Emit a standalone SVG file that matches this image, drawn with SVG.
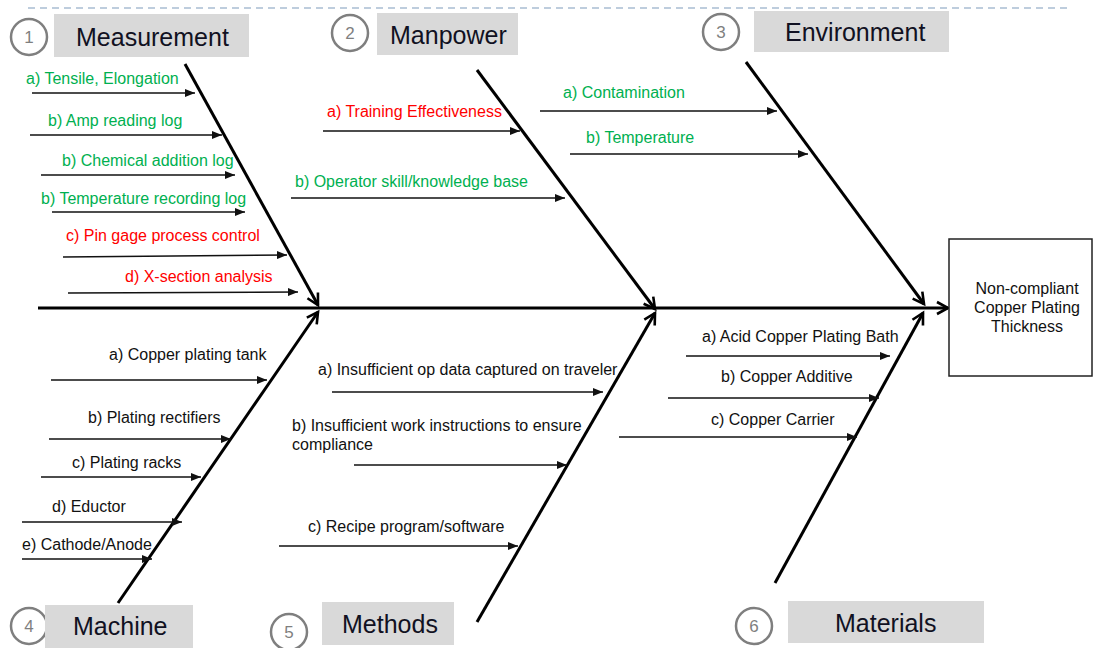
<svg xmlns="http://www.w3.org/2000/svg" width="1094" height="648" viewBox="0 0 1094 648">
<style>
.t{font-family:"Liberation Sans",Arial,sans-serif;font-size:16px;}
.g{fill:#00b050;}
.r{fill:#ff0000;}
.k{fill:#111111;}
.hd{font-family:"Liberation Sans",Arial,sans-serif;font-size:25px;fill:#111122;}
.hb{fill:#d9d9d9;}
.cn{fill:#ffffff;stroke:#7f7f7f;stroke-width:2.5;}
.num{font-family:"Liberation Sans",Arial,sans-serif;font-size:17px;fill:#7f7f7f;text-anchor:middle;}
.bone{stroke:#000;stroke-width:3;fill:none;marker-end:url(#open);}
.sub{stroke:#111;stroke-width:1.6;fill:none;marker-end:url(#fill);}
</style>
<defs>
<marker id="open" markerUnits="userSpaceOnUse" markerWidth="16" markerHeight="16" refX="13" refY="8" orient="auto" viewBox="0 0 16 16">
<path d="M2,2 L13,8 L2,14" fill="none" stroke="#000" stroke-width="2.6"/>
</marker>
<marker id="fill" markerUnits="userSpaceOnUse" markerWidth="10" markerHeight="8" refX="10" refY="4" orient="auto" viewBox="0 0 10 8">
<path d="M0,0 L10,4 L0,8 z" fill="#111"/>
</marker>
</defs>
<rect width="1094" height="648" fill="#ffffff"/>
<line x1="28" y1="8" x2="1067" y2="8" stroke="#a9bdd2" stroke-width="1.3" stroke-dasharray="7,5"/>

<g id="connectors">
<line x1="38" y1="308" x2="948" y2="308" class="bone"/>
<line x1="185" y1="64" x2="318" y2="305" class="bone"/>
<line x1="477" y1="70" x2="655" y2="309" class="bone"/>
<line x1="746" y1="62" x2="924" y2="304" class="bone"/>
<line x1="118" y1="603" x2="318" y2="312" class="bone"/>
<line x1="477" y1="622" x2="655" y2="313" class="bone"/>
<line x1="775" y1="583" x2="923" y2="313" class="bone"/>
<line x1="32" y1="93" x2="195" y2="93" class="sub"/>
<line x1="30" y1="135" x2="222" y2="135" class="sub"/>
<line x1="41" y1="175" x2="235" y2="175" class="sub"/>
<line x1="52" y1="212" x2="245" y2="212" class="sub"/>
<line x1="63" y1="257" x2="287" y2="255" class="sub"/>
<line x1="68" y1="293" x2="298" y2="292" class="sub"/>
<line x1="323" y1="131" x2="520" y2="131" class="sub"/>
<line x1="291" y1="198" x2="565" y2="198" class="sub"/>
<line x1="540" y1="111" x2="777" y2="111" class="sub"/>
<line x1="570" y1="154" x2="808" y2="154" class="sub"/>
<line x1="51" y1="380" x2="267" y2="380" class="sub"/>
<line x1="49" y1="439" x2="231" y2="439" class="sub"/>
<line x1="41" y1="477" x2="201" y2="477" class="sub"/>
<line x1="22" y1="522" x2="182" y2="522" class="sub"/>
<line x1="22" y1="559" x2="152" y2="559" class="sub"/>
<line x1="332" y1="392" x2="603" y2="392" class="sub"/>
<line x1="354" y1="465" x2="567" y2="465" class="sub"/>
<line x1="279" y1="546" x2="518" y2="546" class="sub"/>
<line x1="686" y1="356" x2="890" y2="356" class="sub"/>
<line x1="668" y1="398" x2="879" y2="398" class="sub"/>
<line x1="619" y1="437" x2="857" y2="437" class="sub"/>
</g>

<g id="effect">
<rect x="949" y="239" width="143" height="137" fill="#fff" stroke="#222" stroke-width="1.5"/>
<text class="t k" x="1027" y="294" text-anchor="middle">Non-compliant</text>
<text class="t k" x="1027" y="313" text-anchor="middle">Copper Plating</text>
<text class="t k" x="1027" y="332" text-anchor="middle">Thickness</text>
</g>

<g id="measurement">
<circle class="cn" cx="29" cy="37" r="18"/>
<text class="num" x="29" y="43">1</text>
<rect class="hb" x="54" y="14" width="195" height="43"/>
<text class="hd" x="76" y="46">Measurement</text>
<text class="t g" x="26" y="84">a) Tensile, Elongation</text>
<text class="t g" x="48" y="126">b) Amp reading log</text>
<text class="t g" x="62" y="166">b) Chemical addition log</text>
<text class="t g" x="41" y="204">b) Temperature recording log</text>
<text class="t r" x="66" y="241">c) Pin gage process control</text>
<text class="t r" x="125" y="282">d) X-section analysis</text>
</g>

<g id="manpower">
<circle class="cn" cx="350" cy="33" r="18"/>
<text class="num" x="350" y="39">2</text>
<rect class="hb" x="377" y="13" width="141" height="42"/>
<text class="hd" x="390" y="44">Manpower</text>
<text class="t r" x="327" y="117">a) Training Effectiveness</text>
<text class="t g" x="295" y="187">b) Operator skill/knowledge base</text>
</g>

<g id="environment">
<circle class="cn" cx="721" cy="32" r="18"/>
<text class="num" x="721" y="38">3</text>
<rect class="hb" x="754" y="11" width="195" height="41"/>
<text class="hd" x="785" y="41">Environment</text>
<text class="t g" x="563" y="98">a) Contamination</text>
<text class="t g" x="586" y="143">b) Temperature</text>
</g>

<g id="machine">
<circle class="cn" cx="29" cy="626" r="18"/>
<text class="num" x="29" y="632">4</text>
<rect class="hb" x="45" y="605" width="148" height="43"/>
<text class="hd" x="73" y="635">Machine</text>
<text class="t k" x="109" y="360">a) Copper plating tank</text>
<text class="t k" x="88" y="423">b) Plating rectifiers</text>
<text class="t k" x="72" y="468">c) Plating racks</text>
<text class="t k" x="52" y="512">d) Eductor</text>
<text class="t k" x="22" y="550">e) Cathode/Anode</text>
</g>

<g id="methods">
<circle class="cn" cx="289" cy="632" r="18"/>
<text class="num" x="289" y="638">5</text>
<rect class="hb" x="322" y="602" width="132" height="43"/>
<text class="hd" x="342" y="633">Methods</text>
<text class="t k" x="318" y="375">a) Insufficient op data captured on traveler</text>
<text class="t k" x="292" y="431">b) Insufficient work instructions to ensure</text>
<text class="t k" x="292" y="450">compliance</text>
<text class="t k" x="308" y="532">c) Recipe program/software</text>
</g>

<g id="materials">
<circle class="cn" cx="754" cy="626" r="18"/>
<text class="num" x="754" y="632">6</text>
<rect class="hb" x="788" y="601" width="196" height="42"/>
<text class="hd" x="835" y="632">Materials</text>
<text class="t k" x="702" y="342">a) Acid Copper Plating Bath</text>
<text class="t k" x="721" y="382">b) Copper Additive</text>
<text class="t k" x="711" y="425">c) Copper Carrier</text>
</g>
</svg>
